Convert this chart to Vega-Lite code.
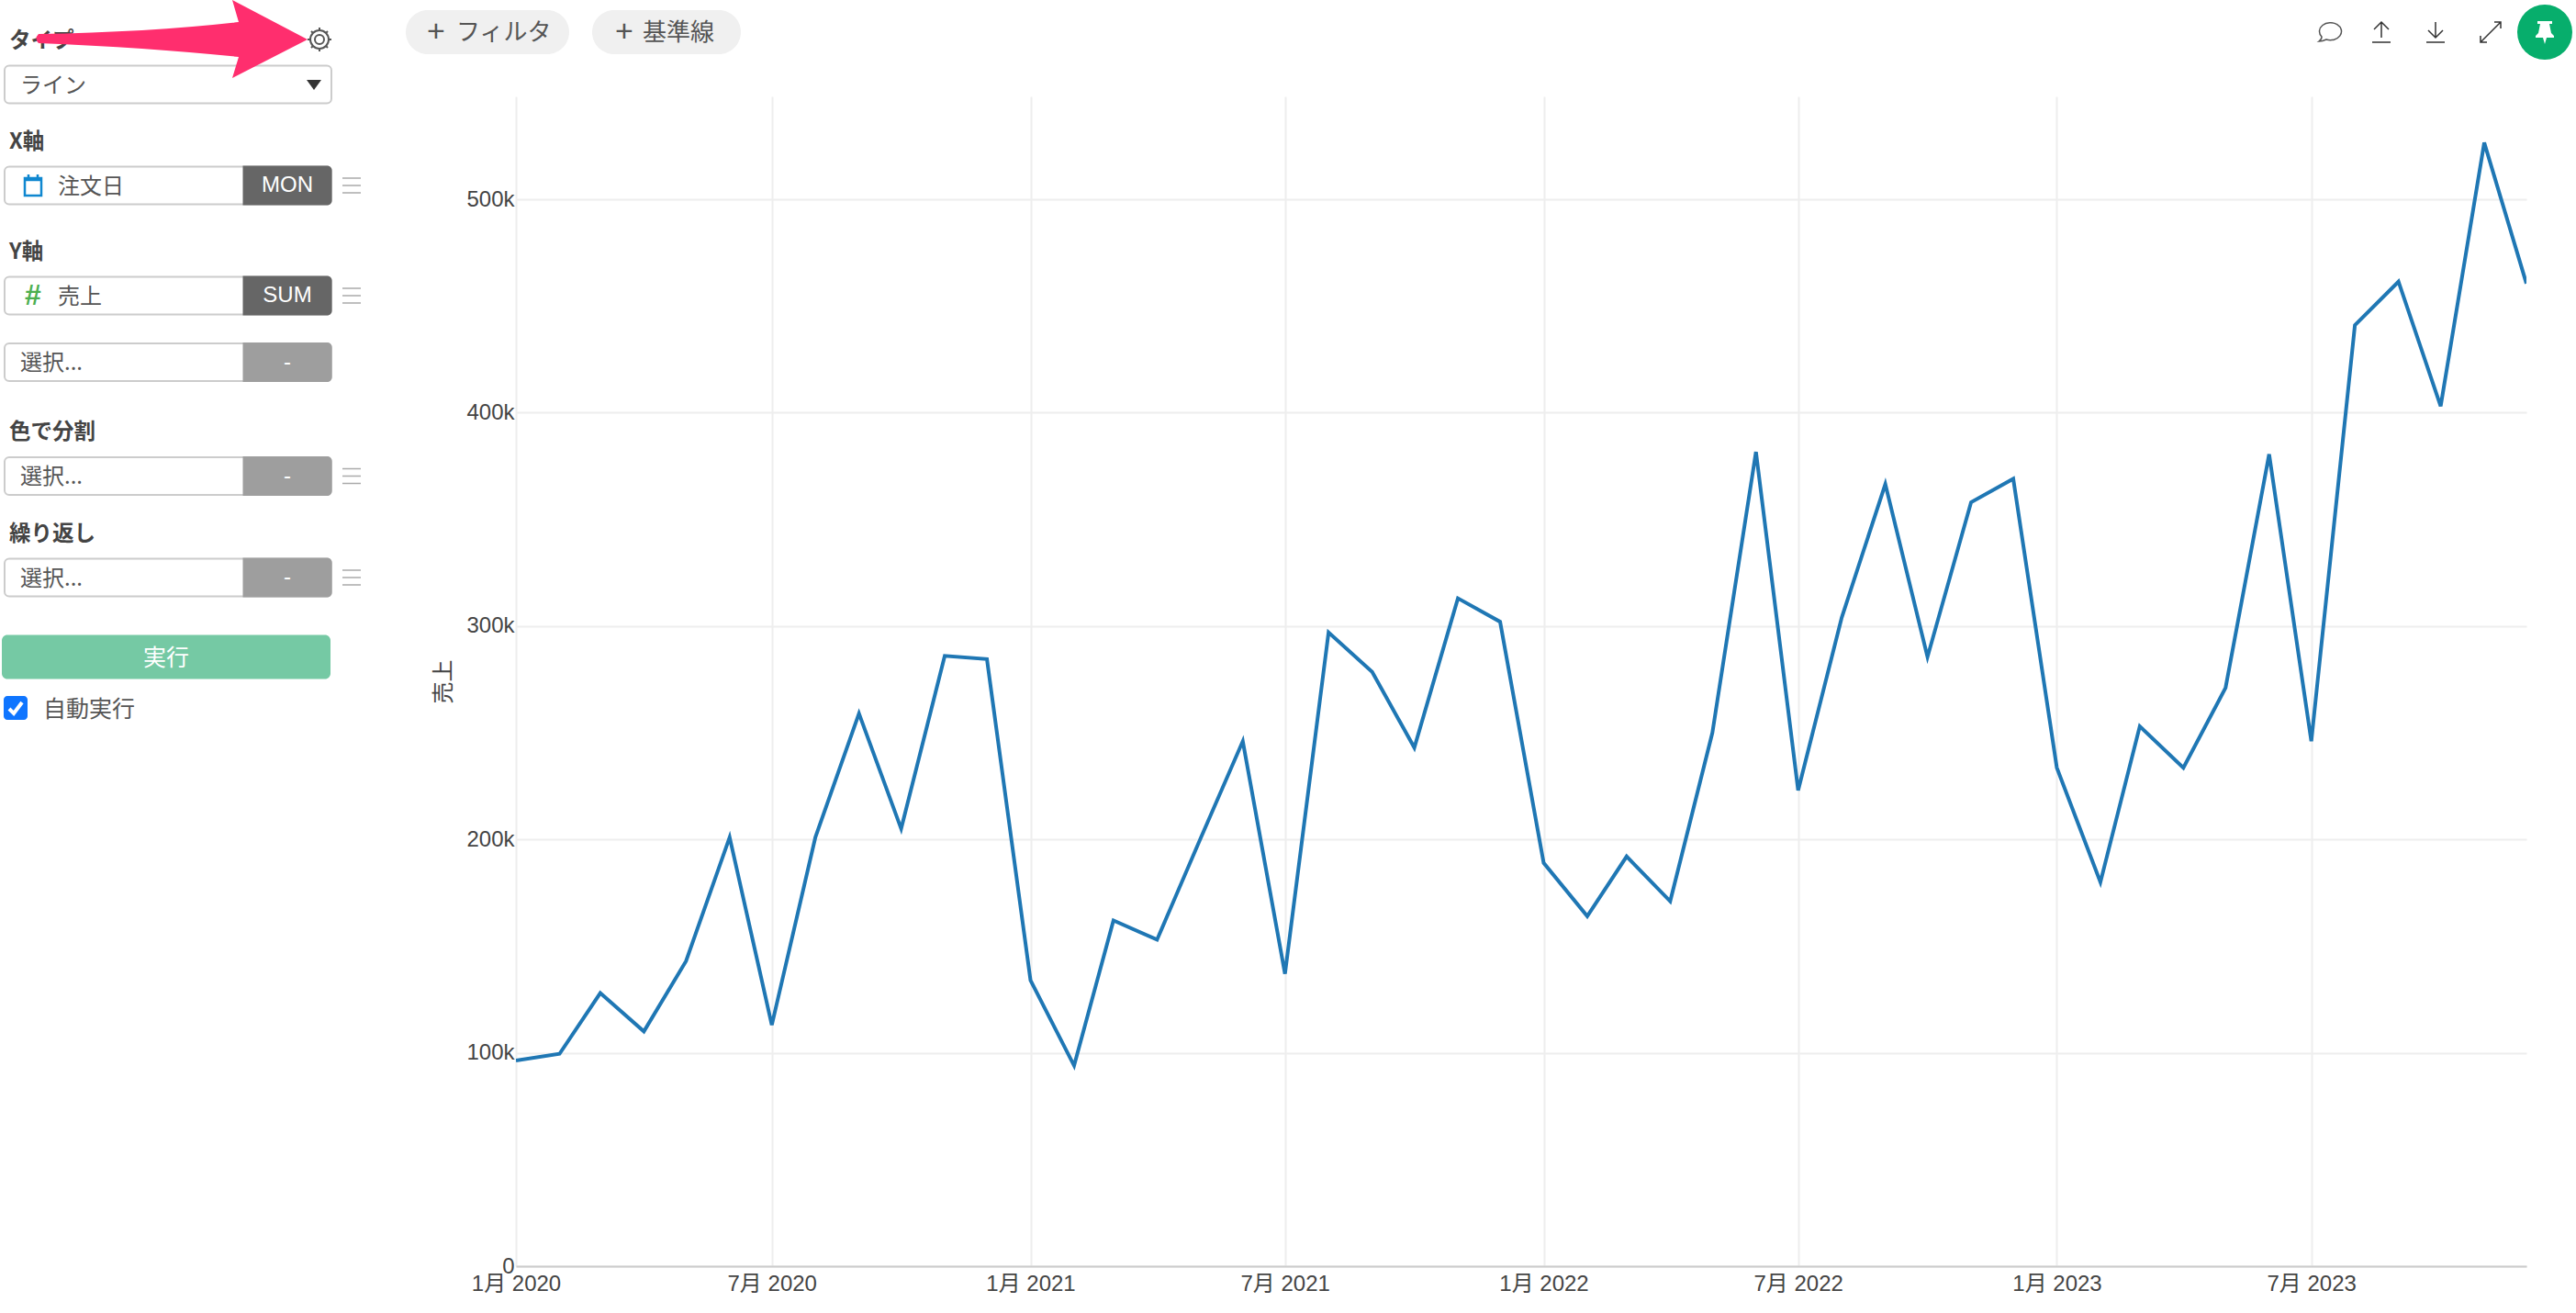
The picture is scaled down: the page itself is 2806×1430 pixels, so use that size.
{"$schema":"https://vega.github.io/schema/vega-lite/v6.json","width":2190,"height":1274,"autosize":{"type":"none"},"padding":{"left":562,"top":105,"right":54,"bottom":51},"background":"white","config":{"view":{"stroke":null},"font":"Noto Sans CJK JP"},
"datasets":{"sales":[{"month":"2020-01-01","sales":96400},{"month":"2020-02-01","sales":99500},{"month":"2020-03-01","sales":128000},{"month":"2020-04-01","sales":110000},{"month":"2020-05-01","sales":143000},{"month":"2020-06-01","sales":201000},{"month":"2020-07-01","sales":113000},{"month":"2020-08-01","sales":201000},{"month":"2020-09-01","sales":259000},{"month":"2020-10-01","sales":205000},{"month":"2020-11-01","sales":286000},{"month":"2020-12-01","sales":284500},{"month":"2021-01-01","sales":134000},{"month":"2021-02-01","sales":94000},{"month":"2021-03-01","sales":162000},{"month":"2021-04-01","sales":153000},{"month":"2021-05-01","sales":199000},{"month":"2021-06-01","sales":246000},{"month":"2021-07-01","sales":137000},{"month":"2021-08-01","sales":297000},{"month":"2021-09-01","sales":278500},{"month":"2021-10-01","sales":243000},{"month":"2021-11-01","sales":313000},{"month":"2021-12-01","sales":302000},{"month":"2022-01-01","sales":189000},{"month":"2022-02-01","sales":164000},{"month":"2022-03-01","sales":192000},{"month":"2022-04-01","sales":171000},{"month":"2022-05-01","sales":250000},{"month":"2022-06-01","sales":381600},{"month":"2022-07-01","sales":223000},{"month":"2022-08-01","sales":304000},{"month":"2022-09-01","sales":366500},{"month":"2022-10-01","sales":285500},{"month":"2022-11-01","sales":358000},{"month":"2022-12-01","sales":369000},{"month":"2023-01-01","sales":233600},{"month":"2023-02-01","sales":180000},{"month":"2023-03-01","sales":253000},{"month":"2023-04-01","sales":233600},{"month":"2023-05-01","sales":271000},{"month":"2023-06-01","sales":380500},{"month":"2023-07-01","sales":246000},{"month":"2023-08-01","sales":441000},{"month":"2023-09-01","sales":461400},{"month":"2023-10-01","sales":403000},{"month":"2023-11-01","sales":526500},{"month":"2023-12-01","sales":460500}],
"ui":[
{"kind":"pill1","col":15,"row":1},{"kind":"pill2","col":18,"row":1},
{"kind":"plus","text":"+","col":13,"row":1},{"kind":"plus","text":"+","col":16,"row":1},
{"kind":"pilltext","text":"フィルタ","col":14,"row":1},{"kind":"pilltext","text":"基準線","col":17,"row":1},
{"kind":"box","col":8,"row":3},{"kind":"box","col":8,"row":5},{"kind":"box","col":8,"row":7},{"kind":"box","col":8,"row":8},{"kind":"box","col":8,"row":10},{"kind":"box","col":8,"row":12},
{"kind":"agg","state":"set","text":"MON","col":9,"row":5},{"kind":"agg","state":"set","text":"SUM","col":9,"row":7},{"kind":"agg","state":"unset","text":"-","col":9,"row":8},{"kind":"agg","state":"unset","text":"-","col":9,"row":10},{"kind":"agg","state":"unset","text":"-","col":9,"row":12},
{"kind":"label","text":"タイプ","col":1,"row":2},{"kind":"label","text":"X軸","col":1,"row":4},{"kind":"label","text":"Y軸","col":1,"row":6},{"kind":"label","text":"色で分割","col":1,"row":9},{"kind":"label","text":"繰り返し","col":1,"row":11},
{"kind":"input","text":"ライン","col":3,"row":3},{"kind":"input","text":"選択...","col":3,"row":8},{"kind":"input","text":"選択...","col":3,"row":10},{"kind":"input","text":"選択...","col":3,"row":12},
{"kind":"input","text":"注文日","col":6,"row":5},{"kind":"input","text":"売上","col":6,"row":7},{"kind":"auto","text":"自動実行","col":5,"row":14},
{"kind":"hash","text":"#","col":4,"row":7},
{"kind":"run","text":"実行","col":7,"row":13},
{"kind":"check","col":2,"row":14},
{"kind":"menu","col":12,"row":5},{"kind":"menu","col":12,"row":7},{"kind":"menu","col":12,"row":10},{"kind":"menu","col":12,"row":12},
{"kind":"caret","col":10,"row":3},{"kind":"gear","col":11,"row":2},{"kind":"calendar","col":4,"row":5},{"kind":"arrow","col":8,"row":2},
{"kind":"speech","col":19,"row":1},{"kind":"upload","col":20,"row":1},{"kind":"download","col":21,"row":1},{"kind":"expand","col":22,"row":1},{"kind":"pin","col":23,"row":1}
]},
"resolve":{"scale":{"x":"independent","y":"independent"}},
"layer":[
{"data":{"name":"sales"},"mark":{"type":"line","color":"#1f77b4","strokeWidth":4,"clip":true},
"encoding":{
"x":{"field":"month","type":"temporal","scale":{"type":"utc","domain":["2020-01-01","2023-12-01"]},"axis":{"title":null,"grid":true,"gridColor":"#eeeeee","gridWidth":2,"domainColor":"#cccccc","domainWidth":2,"ticks":false,"labelFont":"Liberation Sans, Noto Sans CJK JP","labelFontSize":24,"labelColor":"#444444","labelPadding":7,"labelOverlap":false,"labelFlush":false,"labelExpr":"(utcmonth(datum.value)+1)+'月 '+utcyear(datum.value)","values":[{"utc":true,"year":2020,"month":1,"date":1},{"utc":true,"year":2020,"month":7,"date":1},{"utc":true,"year":2021,"month":1,"date":1},{"utc":true,"year":2021,"month":7,"date":1},{"utc":true,"year":2022,"month":1,"date":1},{"utc":true,"year":2022,"month":7,"date":1},{"utc":true,"year":2023,"month":1,"date":1},{"utc":true,"year":2023,"month":7,"date":1}]}},
"y":{"field":"sales","type":"quantitative","scale":{"domain":[0,548200],"nice":false},"axis":{"title":"売上","titleFont":"Noto Sans CJK JP","titleFontSize":24,"titleFontWeight":"normal","titleColor":"#444444","titlePadding":12,"grid":true,"gridColor":"#eeeeee","gridWidth":2,"domain":false,"ticks":false,"labelFont":"Liberation Sans","labelFontSize":24,"labelColor":"#444444","labelPadding":2,"values":[0,100000,200000,300000,400000,500000],"labelExpr":"datum.value==0?'0':(datum.value/1000)+'k'"}}}},
{"data":{"name":"ui"},
"encoding":{
"x":{"field":"col","type":"quantitative","axis":null,"scale":{"zero":false,"nice":false,"domain":[1,2,3,4,5,6,7,8,9,10,11,12,13,14,15,16,17,18,19,20,21,22,23],"range":[-552,-545,-540,-526,-515,-499,-381,-379,-249,-220,-214,-179,-87,-65,-31,118,138,164,1976,2032,2091,2151,2210]}},
"y":{"field":"row","type":"quantitative","axis":null,"scale":{"zero":false,"nice":false,"domain":[1,2,3,4,5,6,7,8,9,10,11,12,13,14],"range":[-70,-62,-13,48,97,168,217,289.5,364,413.5,475,524,610.5,666]}}},
"layer":[
{"transform":[{"filter":"datum.kind=='pill1'"}],"mark":{"type":"rect","width":178,"height":48,"cornerRadius":24,"fill":"#f0f0f0"}},
{"transform":[{"filter":"datum.kind=='pill2'"}],"mark":{"type":"rect","width":162,"height":48,"cornerRadius":24,"fill":"#f0f0f0"}},
{"transform":[{"filter":"datum.kind=='plus'"}],"mark":{"type":"text","fontSize":34,"color":"#555555","align":"center","baseline":"middle","font":"Liberation Sans"},"encoding":{"text":{"field":"text"}}},
{"transform":[{"filter":"datum.kind=='pilltext'"}],"mark":{"type":"text","fontSize":26,"color":"#555555","align":"left","baseline":"middle","dy":1,"font":"Noto Sans CJK JP"},"encoding":{"text":{"field":"text"}}},
{"transform":[{"filter":"datum.kind=='box'"}],"mark":{"type":"rect","width":356,"height":41,"cornerRadius":5,"fill":"white","stroke":"#cccccc","strokeWidth":2}},
{"transform":[{"filter":"datum.kind=='agg'"}],"mark":{"type":"rect","width":97,"height":43,"cornerRadiusTopRight":5,"cornerRadiusBottomRight":5},"encoding":{"color":{"field":"state","type":"nominal","legend":null,"scale":{"domain":["set","unset"],"range":["#666666","#9e9e9e"]}}}},
{"transform":[{"filter":"datum.kind=='agg'"}],"mark":{"type":"text","fontSize":24,"color":"white","align":"center","baseline":"middle","font":"Liberation Sans"},"encoding":{"text":{"field":"text"}}},
{"transform":[{"filter":"datum.kind=='label'"}],"mark":{"type":"text","fontSize":23.5,"fontWeight":"bold","color":"#444444","align":"left","baseline":"middle","dy":1.5,"font":"Noto Sans CJK JP"},"encoding":{"text":{"field":"text"}}},
{"transform":[{"filter":"datum.kind=='input'"}],"mark":{"type":"text","fontSize":24,"color":"#555555","align":"left","baseline":"middle","dy":1.5,"font":"Noto Sans CJK JP"},"encoding":{"text":{"field":"text"}}},
{"transform":[{"filter":"datum.kind=='auto'"}],"mark":{"type":"text","fontSize":25,"color":"#555555","align":"left","baseline":"middle","dy":1.5,"font":"Noto Sans CJK JP"},"encoding":{"text":{"field":"text"}}},
{"transform":[{"filter":"datum.kind=='hash'"}],"mark":{"type":"text","fontSize":32,"fontWeight":"bold","color":"#4caf50","align":"center","baseline":"middle","font":"Liberation Sans"},"encoding":{"text":{"field":"text"}}},
{"transform":[{"filter":"datum.kind=='run'"}],"mark":{"type":"rect","width":358,"height":48,"cornerRadius":6,"fill":"#75c9a4"}},
{"transform":[{"filter":"datum.kind=='run'"}],"mark":{"type":"text","fontSize":25,"color":"white","align":"center","baseline":"middle","dy":1,"font":"Noto Sans CJK JP"},"encoding":{"text":{"field":"text"}}},
{"transform":[{"filter":"datum.kind=='check'"}],"mark":{"type":"rect","width":26,"height":26,"cornerRadius":4,"fill":"#0f75ff"}},
{"transform":[{"filter":"datum.kind=='check'"}],"mark":{"type":"point","shape":"M-7,1 L-2,6 L7,-6","size":4,"filled":false,"stroke":"white","strokeWidth":4,"opacity":1}},
{"transform":[{"filter":"datum.kind=='menu'"}],"mark":{"type":"point","shape":"M-10,-8 H10 M-10,0 H10 M-10,8 H10","size":4,"filled":false,"stroke":"#aaaaaa","strokeWidth":1.5,"opacity":1}},
{"transform":[{"filter":"datum.kind=='caret'"}],"mark":{"type":"point","shape":"M-8,-5 L8,-5 L0,6 Z","size":4,"filled":true,"fill":"#333333","opacity":1}},
{"transform":[{"filter":"datum.kind=='gear'"}],"mark":{"type":"point","shape":"M10,0 A10,10 0 1,1 -10,0 A10,10 0 1,1 10,0 Z M5,0 A5,5 0 1,1 -5,0 A5,5 0 1,1 5,0 Z M10,0 L13,0 M-10,0 L-13,0 M0,10 L0,13 M0,-10 L0,-13 M7,7 L9,9 M-7,7 L-9,9 M7,-7 L9,-9 M-7,-7 L-9,-9","size":4,"filled":false,"stroke":"#555555","strokeWidth":2,"opacity":1}},
{"transform":[{"filter":"datum.kind=='calendar'"}],"mark":{"type":"point","shape":"M-9,-8 H9 V11 H-9 Z M-5,-12 V-7 M5,-12 V-7 M-9,-6 H9","size":4,"filled":false,"stroke":"#0f87d0","strokeWidth":2.5,"opacity":1}},
{"transform":[{"filter":"datum.kind=='arrow'"}],"mark":{"type":"point","shape":"M-141,-6 Q-20,-8 77,-19 L70,-43 L152,0 L70,42 L77,19 Q-20,9 -141,4 Q-146,-1 -141,-6 Z","size":4,"filled":true,"fill":"#ff2e6e","opacity":1}},
{"transform":[{"filter":"datum.kind=='speech'"}],"mark":{"type":"point","shape":"M-9,5 A12,9.5 0 1,1 -4,8 Q-8,10 -12,10 Q-9,8 -9,5 Z","size":4,"filled":false,"stroke":"#555555","strokeWidth":1.5,"opacity":1}},
{"transform":[{"filter":"datum.kind=='upload'"}],"mark":{"type":"point","shape":"M-10,11 H10 M0,6 V-11 M-8,-3 L0,-11 L8,-3","size":4,"filled":false,"stroke":"#333333","strokeWidth":1.5,"opacity":1}},
{"transform":[{"filter":"datum.kind=='download'"}],"mark":{"type":"point","shape":"M-10,11 H10 M0,-11 V6 M-8,-2 L0,6 L8,-2","size":4,"filled":false,"stroke":"#333333","strokeWidth":1.5,"opacity":1}},
{"transform":[{"filter":"datum.kind=='expand'"}],"mark":{"type":"point","shape":"M-11,11 L11,-11 M-11,4 V11 H-4 M4,-11 H11 V-4","size":4,"filled":false,"stroke":"#333333","strokeWidth":1.5,"opacity":1}},
{"transform":[{"filter":"datum.kind=='pin'"}],"mark":{"type":"point","shape":"circle","size":3600,"filled":true,"fill":"#07ae6c","opacity":1}},
{"transform":[{"filter":"datum.kind=='pin'"}],"mark":{"type":"point","shape":"M-8,-12 H8 V-9 H5 L7,1 L10,4 V6 H2 L0,13 L-2,6 H-10 V4 L-7,1 L-5,-9 H-8 Z","size":4,"filled":true,"fill":"white","opacity":1}}
]}
]}
